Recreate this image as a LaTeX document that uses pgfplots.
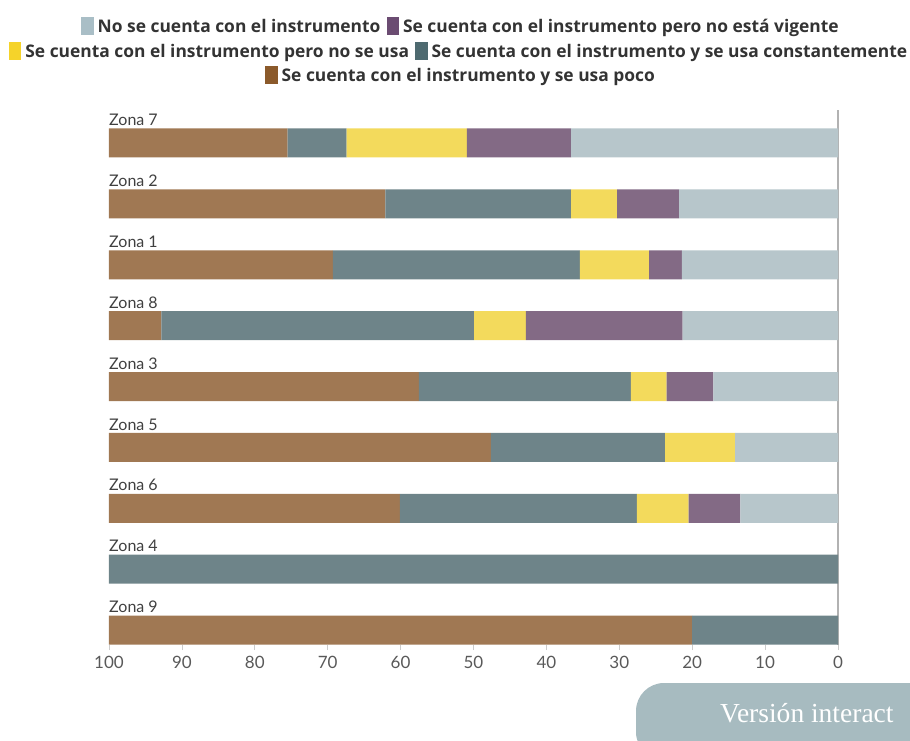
\documentclass[border=0pt]{standalone}
\usepackage{pgfplots}
\pgfplotsset{compat=1.18}
\usepackage{fontspec}
\setmainfont{Lato}
\newfontfamily\legfont{Open Sans}
\newfontfamily\serifbtn{Liberation Serif}
\definecolor{cLB}{HTML}{B7C6CB}
\definecolor{cPU}{HTML}{836A85}
\definecolor{cYE}{HTML}{F3DA5C}
\definecolor{cTE}{HTML}{6E8489}
\definecolor{cBR}{HTML}{A07853}
\definecolor{lLB}{HTML}{A9BEC6}
\definecolor{lPU}{HTML}{6B4C72}
\definecolor{lYE}{HTML}{F5D32A}
\definecolor{lTE}{HTML}{4E6A70}
\definecolor{lBR}{HTML}{8B5A2B}
\definecolor{btn}{HTML}{A7BBC0}
\newcommand\lm[1]{\textcolor{#1}{\rule[-0.14em]{0.72em}{1.0em}}\hspace{4pt}}
\pgfplotstableread{
y lb pu ye te br
8 36.6 14.3 16.5 8.1 24.5
7 21.8 8.5 6.3 25.5 37.9
6 21.4 4.5 9.5 33.9 30.7
5 21.3 21.5 7.1 42.9 7.2
4 17.1 6.4 4.9 29.1 42.5
3 14.1 0 9.6 23.9 52.4
2 13.4 7.1 7.1 32.5 39.9
1 0 0 0 100 0
0 0 0 0 20 80
}\datatable
\begin{document}
\begin{tikzpicture}[x=1pt,y=1pt]
\useasboundingbox (0,0) rectangle (910,740);
\begin{axis}[
  at={(109pt,95pt)}, anchor=south west,
  scale only axis, width=729pt, height=535pt,
  xbar stacked, bar width=29pt,
  x dir=reverse,
  xmin=0, xmax=100, ymin=-0.246, ymax=8.542,
  xtick={0,10,...,100},
  ytick=\empty,
  axis x line*=bottom, axis y line*=right,
  x axis line style={draw=none},
  y axis line style={draw=black!30, line width=1.2pt},
  tick style={draw=black!20, line width=0.6pt},
  major tick length=5pt,
  tick align=outside,
  xticklabel style={font=\fontsize{17}{19}\selectfont, text=black!65, yshift=-3pt},
  /pgf/number format/assume math mode=true,
  clip=false,
]
\addplot[fill=cLB, draw=none] table[x=lb, y=y] {\datatable};
\addplot[fill=cPU, draw=none] table[x=pu, y=y] {\datatable};
\addplot[fill=cYE, draw=none] table[x=ye, y=y] {\datatable};
\addplot[fill=cTE, draw=none] table[x=te, y=y] {\datatable};
\addplot[fill=cBR, draw=none] table[x=br, y=y] {\datatable};
\foreach \yy/\nm in {8/7,7/2,6/1,5/8,4/3,3/5,2/6,1/4,0/9}{
  \edef\tmp{\noexpand\node[anchor=south west, inner sep=0pt, font=\noexpand\fontsize{16}{18}\noexpand\selectfont, text=black!75] at ([yshift=17pt]axis cs:100,\yy) {Zona \nm};}
  \tmp
}
\end{axis}
\node[font=\legfont\bfseries\fontsize{17.4}{20}\selectfont, text=black!80, inner sep=0pt] at (460,713) {\lm{lLB}No se cuenta con el instrumento\hspace{6pt}\lm{lPU}Se cuenta con el instrumento pero no está vigente};
\node[font=\legfont\bfseries\fontsize{17.4}{20}\selectfont, text=black!80, inner sep=0pt] at (458,688) {\lm{lYE}Se cuenta con el instrumento pero no se usa\hspace{6pt}\lm{lTE}Se cuenta con el instrumento y se usa constantemente};
\node[font=\legfont\bfseries\fontsize{17.4}{20}\selectfont, text=black!80, inner sep=0pt] at (460,664) {\lm{lBR}Se cuenta con el instrumento y se usa poco};
\begin{scope}
\clip (0,0) rectangle (910,740);
\fill[btn, rounded corners=28pt] (636,-20) rectangle (1000,57);
\node[anchor=base west, text=white, font=\serifbtn\fontsize{27.5}{30}\selectfont, inner sep=0pt] at (720,18) {Versión interact};
\end{scope}
\end{tikzpicture}
\end{document}
